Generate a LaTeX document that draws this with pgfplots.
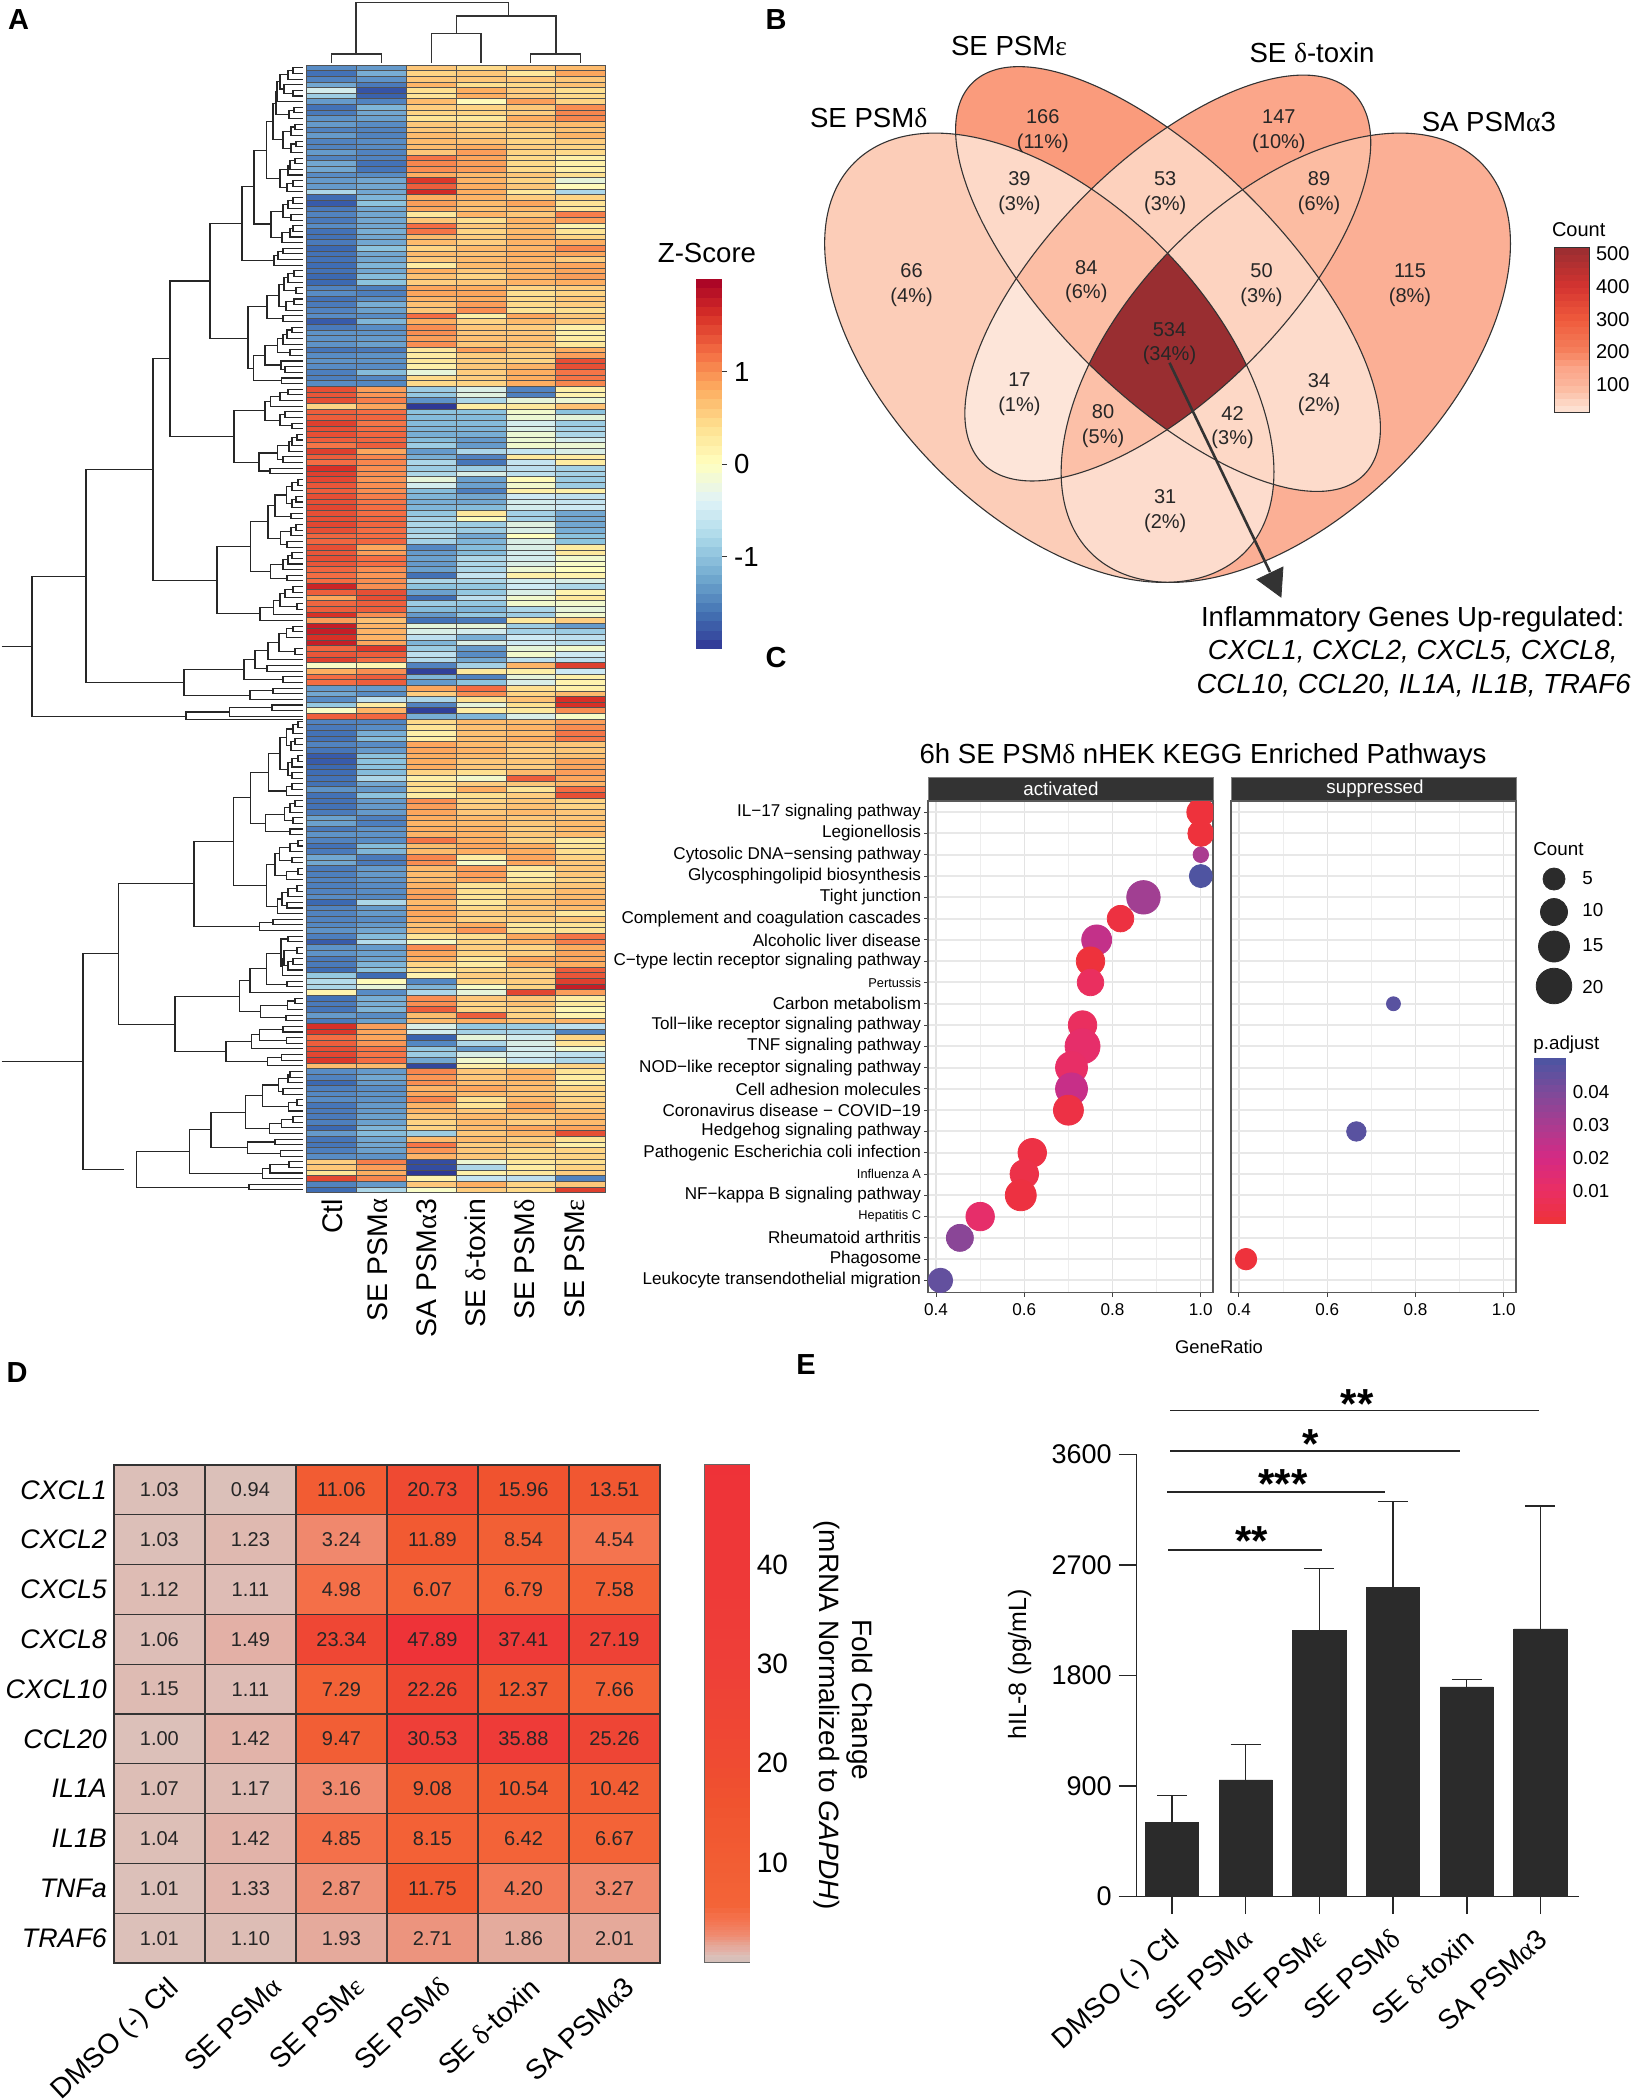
\documentclass[border=0pt]{standalone}
\usepackage{pgfplots}
\usepackage{pgfplotstable}
\usepackage{fontspec}
\pgfplotsset{compat=1.18}
\setmainfont{Liberation Sans}
\newfontfamily\gk{Liberation Serif}
\newcommand\GD{{\gk δ}}
\newcommand\GE{{\gk ε}}
\newcommand\GA{{\gk α}}
\newcommand\fs[1]{\fontsize{#1}{#1}\selectfont}
\pgfplotsset{
 box/.style n args={4}{scale only axis, anchor=north west, at={(#1*0.5pt,-#2*0.5pt)}, width=#3*0.5pt, height=#4*0.5pt},
 /pgf/number format/assume math mode=true,
 unbounded coords=jump,
 colormap={zs}{rgb255=(49,54,149) rgb255=(69,117,180) rgb255=(116,173,209) rgb255=(171,217,233) rgb255=(224,243,248) rgb255=(255,255,191) rgb255=(254,224,144) rgb255=(253,174,97) rgb255=(244,109,67) rgb255=(215,48,39) rgb255=(165,0,38)},
 colormap={zc}{rgb255=(45,50,145) rgb255=(60,105,178) rgb255=(88,140,197) rgb255=(140,195,222) rgb255=(205,233,243) rgb255=(255,255,191) rgb255=(254,224,144) rgb255=(253,174,97) rgb255=(244,109,67) rgb255=(215,48,39) rgb255=(165,0,38)},
 colormap={cnt}{rgb255(17cm)=(253,229,217) rgb255(50cm)=(253,211,192) rgb255(84cm)=(252,190,165) rgb255(115cm)=(251,175,149) rgb255(147cm)=(251,166,138) rgb255(166cm)=(250,155,124) rgb255(200cm)=(245,129,93) rgb255(300cm)=(239,90,60) rgb255(400cm)=(212,51,48) rgb255(518cm)=(153,46,49)},
 colormap={pad}{rgb255=(238,50,56) rgb255=(234,47,99) rgb255=(212,42,132) rgb255=(170,60,144) rgb255=(125,74,154) rgb255=(74,85,162)},
 colormap={fold}{rgb255(0cm)=(205,190,186) rgb255(1cm)=(220,192,185) rgb255(1.5cm)=(227,176,166) rgb255(2cm)=(229,169,154) rgb255(3cm)=(239,140,114) rgb255(4.5cm)=(244,116,80) rgb255(6cm)=(243,100,56) rgb255(11cm)=(242,92,51) rgb255(16cm)=(240,83,47) rgb255(20cm)=(239,75,50) rgb255(30cm)=(238,63,56) rgb255(50cm)=(238,50,56)},
 hcell/.style={scatter,only marks,mark=cellA,mark options={line width=.38pt},scatter src=explicit,scatter/use mapped color={draw=black!68,fill=mapped color}},
}
\pgfdeclareplotmark{cellA}{\pgfpathrectangle{\pgfpoint{-12.46pt}{-1.41pt}}{\pgfpoint{24.92pt}{2.82pt}}\pgfusepathqfillstroke}
\pgfdeclareplotmark{cbA}{\pgfpathrectangle{\pgfpoint{-6.5pt}{-2.4pt}}{\pgfpoint{13pt}{4.8pt}}\pgfusepathqfill}
\pgfdeclareplotmark{cbB}{\pgfpathrectangle{\pgfpoint{-8.5pt}{-1.75pt}}{\pgfpoint{17pt}{3.5pt}}\pgfusepathqfill}
\pgfdeclareplotmark{cbC}{\pgfpathrectangle{\pgfpoint{-8.05pt}{-1.75pt}}{\pgfpoint{16.1pt}{3.5pt}}\pgfusepathqfill}
\pgfdeclareplotmark{cbD}{\pgfpathrectangle{\pgfpoint{-11.3pt}{-2.6pt}}{\pgfpoint{22.6pt}{5.2pt}}\pgfusepathqfill}
\pgfplotstableread{
a b c d e f
-1.2 -1.1 .6 .45 .65 .7
-1.5 -.95 .5 .6 .3 .85
-1.3 -1.15 .6 .6 .6 .6
-1.0 -1.4 .75 .4 .45 .65
-.35 -1.75 .4 .8 .55 .4
-.7 -1.65 .35 .8 .55 .45
-1.1 -1.3 .7 .05 .9 .5
-1.5 -.9 .55 .5 .6 1.0
-1.4 -1.0 .5 .5 .55 1.05
-1.15 -1.05 .35 .3 .8 1.05
-1.1 -1.2 .6 .55 .65 .7
-1.3 -1.3 .6 .5 .55 .65
-1.1 -1.3 .7 .6 .5 .75
-1.3 -1.2 .7 .65 .5 .55
-1.3 -1.2 .7 .8 .55 .5
-1.1 -1.3 .6 .9 .5 .45
-1.3 -1.3 1.15 .85 .45 .2
-1.0 -1.5 1.05 .9 .45 .2
-1.0 -1.45 1.0 .9 .45 .2
-1.2 -1.2 .8 .7 .6 .4
-1.1 -1.0 1.55 .75 .5 -.2
-1.1 -1.0 1.3 .8 .6 .05
-.6 -1.0 1.65 .8 .3 -.6
-1.55 -.9 .8 .75 .55 .5
-1.7 -.8 .9 .7 .85 .35
-1.4 -1.0 .85 .65 .7 .3
-1.3 -1.0 .3 .75 .6 1.1
-1.4 -1.0 .6 .4 .75 .9
-1.2 -1.0 1.2 .6 .7 .15
-1.5 -.95 1.15 .5 .7 .35
-1.5 -1.0 .7 .55 .75 .5
-1.4 -1.0 .7 .55 .75 .8
-1.6 -.8 .5 .7 .75 1.05
-1.5 -1.0 .7 .65 .8 .85
-1.5 -1.0 .6 .7 .75 .55
-1.55 -.9 .25 .7 .75 .85
-1.5 -1.0 .8 .6 .75 .85
-1.6 -.85 .65 .5 .75 .9
-1.6 -.8 .55 .6 .75 .8
-1.3 -1.35 .85 .8 .5 .55
-1.2 -1.35 .85 .85 .4 .5
-1.5 -1.2 .75 .8 .45 .6
-1.4 -.95 .65 .9 .45 .55
-1.3 -1.05 .6 1.0 .35 .4
-1.2 -1.2 1.2 .2 .85 .6
-1.7 -.9 .8 .5 .7 .6
-1.4 -1.2 1.0 .6 .55 .2
-1.15 -1.15 1.0 .6 .6 .2
-1.15 -1.1 .9 .65 .65 .25
-1.15 -1.05 1.0 .6 .65 .3
-1.45 -1.4 .3 .9 .6 .8
-1.2 -1.15 .25 .55 .55 .9
-1.15 -1.15 .3 .55 .5 1.4
-1.2 -1.2 .2 .6 .75 1.4
-1.35 -.85 -.2 .55 .8 1.15
-1.35 -1.25 .45 .55 .8 1.15
-1.2 -1.25 .45 .5 .8 1.05
1.4 .9 -.7 -.3 -1.3 .2
1.35 .95 -.75 -.25 -1.35 .15
1.4 1.1 -1.15 -.6 -.2 -.15
.5 .85 -1.95 .25 .3 .65
1.3 1.2 -.8 -.8 -.1 -.8
1.3 1.25 -.85 -.85 -.15 -.2
1.5 1.15 -.85 -.85 -.35 -.7
1.4 1.2 -.9 -.9 -.3 -.65
1.4 1.25 -.95 -.95 -.15 -.6
1.3 1.25 -.85 -1.1 -.15 -.35
1.15 1.3 -.7 -1.1 -.1 -.15
1.5 .85 -1.1 -.6 -.45 -.3
1.3 1.05 -.95 -1.3 .3 .25
1.2 1.05 -.6 -1.45 -.45 .25
1.6 1.0 -.7 -.7 -.5 -.65
1.5 1.0 -.6 -.3 -.5 -.65
1.45 .95 -.2 -1.05 .05 -.7
1.35 1.0 -.35 -1.05 -.1 -.7
1.3 1.0 -.85 -1.35 .2 .2
1.4 1.1 -.9 -1.0 -.4 -.5
1.4 1.15 -.95 -1.0 -.35 -.45
1.45 1.2 -.9 -.85 -.35 -.4
1.4 1.2 -.75 .3 -.65 -1.0
1.4 1.25 -.65 .05 -.65 -1.0
1.45 1.25 -.6 -.7 -.25 -1.0
1.4 1.2 -.65 -.7 -.3 -.95
1.25 1.2 -.55 -1.0 .0 -.8
1.25 1.25 -.65 -.9 -.3 -.8
1.4 .85 -1.25 -.85 -.3 .25
1.35 .9 -1.1 -.85 -.35 .3
1.4 1.2 -1.05 -.6 -.35 -.1
1.35 1.2 -1.1 -.6 -.3 -.05
1.25 1.0 -1.05 -.6 -.15 0
1.2 .95 -1.5 -.45 .2 .15
1.2 1.0 -.6 -.6 -.35 -.3
1.7 1.0 -.8 -.75 -.4 -.6
1.3 1.4 -1.05 -.75 -.3 .15
.85 1.4 -1.55 -.5 -.1 .3
1.25 1.3 -.7 -.75 -.1 -.1
1.3 1.3 -.85 -.9 -.6 -.2
1.6 1.0 -1.1 -.75 -.7 -.1
.9 .65 -1.5 -1.4 .3 .55
1.75 .75 -.2 -.2 -.7 -1.1
1.75 .75 -.3 -.35 -.65 -.7
1.6 .75 -.5 -.95 -.4 -.5
1.75 .85 -.9 -.3 -.4 -.55
1.25 1.55 -.7 -1.1 -.2 -.1
1.35 1.3 -.5 -1.2 -.1 -.4
1.5 1.2 -.55 -1.0 -.5 -.5
-.05 .1 -1.3 -.65 .75 1.5
.8 1.0 -1.9 .3 .2 -.4
1.2 1.3 -.9 -1.3 -.2 .2
1.2 1.3 -1.1 -.8 -.3 .15
-1.1 -1.1 .85 1.2 .4 .2
-1.0 -1.2 .55 1.0 .5 .7
-1.2 -.5 -.6 .4 .65 1.6
-.75 .25 -1.3 -.2 .4 1.6
-.05 .75 -1.9 .25 .3 1.0
1.3 1.25 -.95 -.9 -.3 -.05
-1.3 -1.3 .45 .7 .7 .9
-1.4 -1.2 .35 .65 .75 1.0
-1.5 -.95 .2 .65 .7 1.15
-1.5 -.85 .2 .65 .8 1.15
-1.3 -1.2 .85 .7 .6 .6
-1.45 -1.1 .85 .75 .55 .6
-1.7 -.8 .8 .7 .55 .65
-1.7 -.8 .8 .6 .6 .85
-1.6 -.8 .8 .6 .55 .85
-1.55 -.85 .5 .4 .7 .9
-1.5 -.6 .2 -.1 1.3 .85
-1.5 -1.0 .45 .55 .6 .75
-1.15 -1.1 .4 .8 .35 1.2
-1.5 -.8 .25 .4 .55 1.4
-1.5 -1.1 1.0 .5 .6 .5
-1.5 -1.1 .9 .55 .65 .5
-1.4 -1.1 .85 .6 .7 .6
-1.05 -1.35 .8 .7 .6 .6
-1.05 -1.35 .75 .7 .6 .7
-1.4 -1.15 .8 .75 .55 .7
-1.15 -1.15 .75 .75 .6 .7
-1.3 -1.2 1.15 .8 .5 .25
-1.5 -.85 .7 .85 .8 .35
-1.4 -.9 .7 .8 .8 .4
-1.0 -1.4 1.05 .25 .85 .5
-1.0 -1.4 1.0 -.05 .85 .6
-1.4 -1.1 .7 .9 .3 .6
-1.35 -1.1 .7 .9 .25 .6
-1.3 -1.15 .7 .85 .3 .5
-1.35 -1.2 .75 .35 .5 .6
-1.3 -1.2 .85 .4 .5 .7
-1.2 -1.25 .9 .35 .55 .7
-1.6 -.6 .7 .3 .65 .75
-1.3 -1.1 .8 .45 .6 .7
-1.3 -1.1 .85 .55 .6 .3
-1.3 -1.2 .8 .5 .55 .6
-1.25 -1.1 .65 .8 .3 .35
-1.15 -1.0 .7 .95 .35 .35
-1.35 -.85 .35 .4 .85 1.15
-1.7 -.55 -.05 .5 .75 1.1
-1.15 -1.1 1.0 .55 .5 .8
-1.15 -1.05 .85 .5 .55 .85
-1.4 -1.05 .8 .35 .85 .85
-1.4 -.9 .5 .25 .75 .8
-1.55 -.8 .4 .45 .5 1.3
-.75 -1.55 .15 .55 .55 1.35
-.55 .05 -1.25 .5 .55 1.5
-.6 -.2 -.9 -.05 .5 1.75
.15 -1.2 -.6 -.2 1.45 .9
-1.5 -.95 1.0 .6 .6 .25
-1.4 -.95 1.0 .5 .65 .3
-1.45 -.9 1.3 .5 .5 .1
-1.1 -1.2 .7 1.3 .5 .15
-1.4 -1.05 .7 .8 .65 .75
1.6 .9 -.3 -.75 -.7 -.5
1.55 .85 -.35 -.65 -.6 -1.3
1.2 .85 -1.65 -.2 -.35 .5
1.3 .95 -1.25 -.6 -.3 .35
1.4 1.15 -.75 -1.1 -.35 -.1
1.45 1.15 -.7 -.3 -.35 -.5
1.55 1.2 -1.0 -.1 -.45 -.6
.7 .7 -1.85 .2 .25 .5
-1.2 -1.1 1.05 .6 .75 .35
-1.3 -1.0 .95 .6 .75 .25
-1.6 -1.1 1.0 .7 .7 .25
-1.35 -1.2 .75 .85 .7 .5
-1.25 -1.15 .85 .7 .65 .45
-1.2 -1.15 1.05 .4 .7 .5
-1.45 -1.1 .75 .35 .85 .55
-1.4 -1.1 .75 .6 .8 .65
-1.4 -1.05 .6 .7 .6 .75
-1.35 -1.05 .5 .7 .55 .7
-1.6 -.9 .5 .7 .85 .85
-1.1 -.85 -.7 .6 .75 1.4
-1.45 -1.0 .7 .7 .55 .35
-1.45 -1.0 1.15 .55 .6 .2
-1.35 -1.05 .95 .6 .45 .5
-1.2 -1.15 .75 .6 .45 .5
.55 1.1 -1.8 -.15 .3 .4
.6 .9 -1.8 -.6 .25 .5
.35 .8 -1.95 .2 .3 .55
1.45 1.05 .15 -.45 -.5 -1.3
-1.3 -1.1 .6 .8 .5 .6
-1.55 -.6 -.05 .55 .45 1.5
}\zdata
\def\JP{(nan,nan)}
\def\DL#1#2#3{(302.7,#2)(#1,#2)(#1,#3)(302.7,#3)\JP}
\def\DN#1#2#3#4#5{(#3,#2)(#1,#2)(#1,#4)(#5,#4)\JP}
\edef\rowdenA{
\DL{293}{0}{1}\DN{288}{0.5}{293}{2}{302.7}\DL{293}{4}{5}\DN{284}{3}{302.7}{4.5}{293}\DN{280}{1.25}{288}{3.75}{284}\DN{277}{2.5}{280}{6}{302.7}
\DL{294}{7}{8}\DN{289}{7.5}{294}{9}{302.7}\DN{276}{4.25}{277}{8.25}{289}\DL{295}{10}{11}\DN{291}{10.5}{295}{12}{302.7}\DL{296}{13}{14}\DN{291}{13.5}{296}{15}{302.7}
\DN{283}{11.25}{291}{14.25}{291}\DN{273}{6.25}{276}{12.75}{283}\DL{295}{16}{17}\DN{290}{16.5}{295}{18}{302.7}\DN{288}{17.25}{290}{19}{302.7}\DL{293}{20}{21}\DN{287}{20.5}{293}{22}{302.7}\DN{280}{18.1}{288}{21.25}{287}
\DN{266.5}{9.5}{273}{19.7}{280}\DL{293}{23}{24}\DN{288}{23.5}{293}{25}{302.7}\DL{291}{26}{27}\DN{283}{24.25}{288}{26.5}{291}\DL{293}{28}{29}\DN{290}{28.5}{293}{30}{302.7}\DN{282}{29.25}{290}{31}{302.7}
\DN{271}{25.4}{283}{30.1}{282}\DN{254}{14.6}{266.5}{27.7}{271}\DL{283}{32}{33}\DN{278}{32.5}{283}{34}{302.7}\DN{274}{33.25}{278}{35}{302.7}\DN{242}{21.1}{254}{34.1}{274}
\DL{294}{36}{37}\DN{288}{36.5}{294}{38}{302.7}\DL{296}{39}{40}\DN{284}{37.25}{288}{39.5}{296}\DL{294}{41}{42}\DN{286}{41.5}{294}{43}{302.7}\DN{279}{38.4}{284}{42.25}{286}\DL{283}{44}{45}\DN{267}{40.3}{279}{44.5}{283}
\DL{292}{46}{47}\DN{287}{46.5}{292}{48}{302.7}\DN{283}{47.25}{287}{49}{302.7}\DL{290}{50}{51}\DN{277.7}{48}{283}{50.5}{290}\DL{285}{53}{54}\DN{281}{52}{302.7}{53.5}{285}\DN{265}{49.3}{277.7}{52.7}{281}\DL{281.7}{55}{56}
\DN{253.3}{51}{265}{55.5}{281.7}\DN{248}{42.4}{267}{53.3}{253.3}\DN{210}{27.6}{242}{48}{248}
\DL{288}{57}{58}\DN{280}{57.5}{288}{59}{302.7}\DN{270.7}{58.25}{280}{60}{302.7}\DL{285}{61}{62}\DL{292}{63}{64}\DN{280}{61.5}{285}{63.5}{292}\DN{265}{59.1}{270.7}{62.5}{280}
\DL{297}{65}{66}\DN{292}{65.5}{297}{67}{302.7}\DN{289}{66.25}{292}{68}{302.7}\DL{283}{69}{70}\DN{277.7}{67}{289}{69.5}{283}\DL{270}{71}{72}\DN{259}{68.3}{277.7}{71.5}{270}\DN{234}{60.8}{265}{70}{259}\DN{170}{37.8}{210}{65.4}{234}
}
\edef\rowdenB{
\DL{298}{73}{74}\DN{292}{73.5}{298}{75}{302.7}\DL{296}{76}{77}\DN{292}{76.5}{296}{78}{302.7}\DN{286.7}{74.25}{292}{77.25}{292}\DL{291}{79}{80}\DN{275}{75.75}{286.7}{79.5}{291}\DL{296}{81}{82}\DN{291}{81.5}{296}{83}{302.7}\DL{287}{84}{85}\DN{280.7}{82.25}{291}{84.5}{287}\DN{268}{77.6}{275}{83.4}{280.7}
\DL{292}{86}{87}\DN{288}{86.5}{292}{88}{302.7}\DN{283}{87.25}{288}{89}{302.7}\DL{287}{90}{91}\DN{270.7}{88.1}{283}{90.5}{287}\DN{250.7}{80.5}{268}{89.3}{270.7}
\DL{293}{92}{93}\DN{285}{92.5}{293}{94}{302.7}\DL{297}{95}{96}\DN{280}{93.25}{285}{95.5}{297}\DN{273.3}{94.4}{280}{97}{302.7}\DN{260}{95.7}{273.3}{98}{302.7}\DN{217}{84.9}{250.7}{96.8}{260}\DN{153}{51.6}{170}{90.9}{217}
\DL{293}{99}{100}\DN{286.7}{99.5}{293}{101}{302.7}\DL{295}{103}{104}\DN{279}{100.25}{286.7}{103.5}{295}\DN{268}{101.9}{279}{105}{302.7}\DL{267}{106}{107}\DN{255}{103.4}{268}{106.5}{267}\DL{283}{108}{109}\DN{244}{105}{255}{108.5}{283}
\DL{273}{110}{111}\DN{250}{110.5}{273}{112}{302.7}\DN{184}{106.75}{244}{111.25}{250}\DN{86}{71.3}{153}{109}{184}
\DL{272}{113}{114}\DN{229.6}{113.5}{272}{115}{302.7}\DN{186}{114.25}{229.6}{115.6}{302.7}\DN{32}{90.2}{86}{115}{186}(1.5,102.7)(32,102.7)\JP
}
\edef\rowdenC{
\DL{298}{116}{117}\DN{293}{116.5}{298}{118}{302.7}\DL{295}{119}{120}\DN{291}{119.5}{295}{121}{302.7}\DN{286.7}{117.25}{293}{120.25}{291}\DL{298}{122}{123}\DN{292}{122.5}{298}{124}{302.7}\DL{292}{125}{126}\DN{288}{123.25}{292}{125.5}{292}\DN{280}{118.75}{286.7}{124.4}{288}
\DL{292}{127}{128}\DN{286.7}{127.5}{292}{129}{302.7}\DN{268.3}{121.6}{280}{128.25}{286.7}\DL{295}{130}{131}\DN{290}{130.5}{295}{132}{302.7}\DL{293}{133}{134}\DN{284.3}{131.25}{290}{133.5}{293}\DL{290}{135}{136}\DN{265.7}{132.4}{284.3}{135.5}{290}\DN{250.7}{124.9}{268.3}{133.95}{265.7}
\DL{298}{137}{138}\DN{290}{137.5}{298}{139}{302.7}\DL{292}{140}{141}\DN{279.3}{138.25}{290}{140.5}{292}\DL{298}{142}{143}\DN{286.7}{142.5}{298}{144}{302.7}\DN{275}{139.4}{279.3}{143.25}{286.7}
\DL{297}{145}{146}\DN{288}{145.5}{297}{147}{302.7}\DL{287}{148}{149}\DN{282}{146.25}{288}{148.5}{287}\DN{277.3}{147.4}{282}{150}{302.7}\DN{266.7}{141.3}{275}{148.7}{277.3}\DN{233.3}{129.4}{250.7}{145}{266.7}
\DL{273}{151}{152}\DN{259.3}{151.5}{273}{153}{302.7}\DN{194}{137.2}{233.3}{152.25}{259.3}
\DL{288}{154}{155}\DL{297}{156}{157}\DL{293}{158}{159}\DN{288}{158.5}{293}{160}{302.7}\DN{284}{156.5}{297}{159.25}{288}\DN{282.5}{157.9}{284}{161}{302.7}\DN{281}{154.5}{288}{159.45}{282.5}\DL{287}{162}{163}\DN{266.7}{157}{281}{162.5}{287}\DN{250}{159.75}{266.7}{164}{302.7}
\DL{295}{165}{166}\DN{287.3}{165.5}{295}{167}{302.7}\DL{286}{168}{169}\DN{260.7}{166.25}{287.3}{168.5}{286}\DN{239.3}{161.9}{250}{167.4}{260.7}
\DL{283}{170}{171}\DL{286.7}{172}{173}\DN{259.3}{170.5}{283}{172.5}{286.7}\DN{251.7}{171.5}{259.3}{174}{302.7}\DL{281.7}{175}{176}\DN{267.7}{175.5}{281.7}{177}{302.7}\DN{226}{172.75}{251.7}{176.25}{267.7}\DN{175}{164.65}{239.3}{174.5}{226}\DN{118.4}{144.7}{194}{169.6}{175}
}
\edef\rowdenD{
\DL{290}{178}{179}\DN{288}{178.5}{290}{180}{302.7}\DL{283}{181}{182}\DN{278.3}{179.25}{288}{181.5}{283}\DL{297}{183}{184}\DN{288.3}{183.5}{297}{185}{302.7}\DN{262.3}{180.4}{278.3}{184.25}{288.3}
\DL{293}{186}{187}\DN{281.7}{186.5}{293}{188}{302.7}\DN{269.3}{187.25}{281.7}{189}{302.7}\DN{245.7}{182.3}{262.3}{188.1}{269.3}\DL{275}{190}{191}\DL{280.7}{192}{193}\DN{247.3}{190.5}{275}{192.5}{280.7}\DN{211}{185.2}{245.7}{191.5}{247.3}
\DL{289}{194}{195}\DN{270}{194.5}{289}{196}{302.7}\DN{262.3}{195.25}{270}{197}{302.7}\DN{189.8}{188.35}{211}{196.1}{262.3}\DL{249}{198}{199}\DN{136.7}{192.2}{189.8}{198.5}{249}\DN{83}{157.15}{118.4}{195.4}{124}(1.5,176.3)(83,176.3)\JP
}
\newcommand\EA{(axis cs:1049.3,357.7) ellipse [x radius=137.9pt,y radius=78.8pt,rotate=-45]}
\newcommand\ED{(axis cs:1285.8,357.7) ellipse [x radius=137.9pt,y radius=78.8pt,rotate=45]}
\newcommand\EB{(axis cs:1168,279) ellipse [x radius=138.5pt,y radius=58pt,rotate=-45]}
\newcommand\EC{(axis cs:1167.8,278) ellipse [x radius=131pt,y radius=58.5pt,rotate=45]}
\newcommand\RII[3]{\begin{scope}\clip #1;\fill[#3] #2;\end{scope}}
\newcommand\RIII[4]{\begin{scope}\clip #1;\clip #2;\fill[#4] #3;\end{scope}}
\newcommand\RIV[5]{\begin{scope}\clip #1;\clip #2;\clip #3;\fill[#5] #4;\end{scope}}
\newcommand\vn[3]{\node[align=center,font=\fontsize{10}{12.4}\selectfont,text=black!85] at (axis cs:#1,#2+1.5) {#3};}
\definecolor{inkc}{HTML}{2B2B2B}
\definecolor{vline}{HTML}{333333}
\definecolor{v017}{RGB}{253,229,217}
\definecolor{v031}{RGB}{253,220,205}
\definecolor{v034}{RGB}{253,219,203}
\definecolor{v039}{RGB}{253,217,200}
\definecolor{v042}{RGB}{253,216,198}
\definecolor{v050}{RGB}{253,211,192}
\definecolor{v053}{RGB}{253,209,189}
\definecolor{v066}{RGB}{252,205,184}
\definecolor{v080}{RGB}{252,192,168}
\definecolor{v084}{RGB}{252,190,165}
\definecolor{v089}{RGB}{252,188,162}
\definecolor{v115}{RGB}{251,175,149}
\definecolor{v147}{RGB}{251,166,138}
\definecolor{v166}{RGB}{250,155,124}
\definecolor{v534}{RGB}{153,46,49}
\begin{document}
\begin{tikzpicture}
\useasboundingbox (0,0) rectangle (816.5pt,-1050pt);
% ---------- canvas in reference pixels
\begin{axis}[box={0}{0}{1633}{2100},xmin=0,xmax=1633,ymin=0,ymax=2100,y dir=reverse,hide axis,clip=false]
% column dendrogram
\addplot[black!80,line width=.55pt] coordinates {(331.5,62.5)(331.5,54)(381.3,54)(381.3,62.5)(nan,nan) (356,54)(356,2.2)(508.7,2.2)(508.7,16)(nan,nan) (431.2,62.5)(431.2,33.5)(481,33.5)(481,62.5)(nan,nan) (456.6,33.5)(456.6,16)(556,16)(556,54)(nan,nan) (530.9,62.5)(530.9,54)(580.7,54)(580.7,62.5)};
% panel letters
\node[font=\bfseries\fs{14.5}] at (axis cs:18.5,19) {A};
\node[font=\bfseries\fs{14.5}] at (axis cs:776,19) {B};
\node[font=\bfseries\fs{14.5}] at (axis cs:776,657) {C};
\node[font=\bfseries\fs{14.5}] at (axis cs:17,1372) {D};
\node[font=\bfseries\fs{14.5}] at (axis cs:806,1364) {E};
% A labels
\node[rotate=90,anchor=east,font=\fs{14.2}] at (axis cs:332,1192) {Ctl};
\node[rotate=90,anchor=east,font=\fs{14.2}] at (axis cs:378,1192) {SE PSM\GA};
\node[rotate=90,anchor=east,font=\fs{14.2}] at (axis cs:427,1192) {SA PSM\GA3};
\node[rotate=90,anchor=east,font=\fs{14.2}] at (axis cs:475,1192) {SE \GD-toxin};
\node[rotate=90,anchor=east,font=\fs{14.2}] at (axis cs:525,1192) {SE PSM\GD};
\node[rotate=90,anchor=east,font=\fs{14.2}] at (axis cs:575,1192) {SE PSM\GE};
\node[font=\fs{13.8}] at (axis cs:707,253) {Z-Score};
% Venn
\fill[v066] \EA;
\fill[v115] \ED;
\fill[v166] \EB;
\fill[v147] \EC;
\RII{\EA}{\EB}{v039}
\RII{\EB}{\EC}{v053}
\RII{\EC}{\ED}{v089}
\RII{\EA}{\EC}{v017}
\RII{\EB}{\ED}{v034}
\RII{\EA}{\ED}{v031}
\RIII{\EA}{\EB}{\EC}{v084}
\RIII{\EB}{\EC}{\ED}{v050}
\RIII{\EA}{\EC}{\ED}{v080}
\RIII{\EA}{\EB}{\ED}{v042}
\RIV{\EA}{\EB}{\EC}{\ED}{v534}
\draw[vline,line width=.55pt] \EA; \draw[vline,line width=.55pt] \ED; \draw[vline,line width=.55pt] \EB; \draw[vline,line width=.55pt] \EC;
\vn{1042.8}{129.5}{166\\(11\%)}\vn{1278.9}{129.5}{147\\(10\%)}\vn{1019.4}{191.4}{39\\(3\%)}\vn{1165.2}{191.9}{53\\(3\%)}\vn{1319.1}{191.4}{89\\(6\%)}
\vn{911.6}{283.7}{66\\(4\%)}\vn{1086.3}{280}{84\\(6\%)}\vn{1261.5}{283.7}{50\\(3\%)}\vn{1410}{283.7}{115\\(8\%)}\vn{1169.5}{342}{534\\(34\%)}
\vn{1019.4}{393}{17\\(1\%)}\vn{1319.1}{393}{34\\(2\%)}\vn{1103.1}{424.7}{80\\(5\%)}\vn{1232.6}{426}{42\\(3\%)}\vn{1165.2}{509.6}{31\\(2\%)}
\node[font=\fs{13.8}] at (axis cs:868.7,118) {SE PSM\GD};
\node[font=\fs{13.8}] at (axis cs:1009,46) {SE PSM\GE};
\node[font=\fs{13.8}] at (axis cs:1312,53) {SE \GD-toxin};
\node[font=\fs{13.8}] at (axis cs:1488.8,122) {SA PSM\GA3};
\addplot[vline,line width=1.3pt] coordinates {(1169.5,362.7)(1270,572)};
\addplot[fill=vline,draw=vline] coordinates {(1257,579.4)(1283,567)(1281,597)} --cycle;
\node[font=\fs{13.8}] at (axis cs:1412.7,619.5) {Inflammatory Genes Up-regulated:};
\node[font=\fs{13.8}\itshape] at (axis cs:1412.7,651.5) {CXCL1, CXCL2, CXCL5, CXCL8,};
\node[font=\fs{13.8}\itshape] at (axis cs:1413.6,685.5) {CCL10, CCL20, IL1A, IL1B, TRAF6};
\node[font=\fs{10}] at (axis cs:1578.7,229.6) {Count};
% C decoration
\node[font=\fs{13.8}] at (axis cs:1203,756) {6h SE PSM\GD\ nHEK KEGG Enriched Pathways};
\addplot[fill=vline,draw=gray] coordinates {(928.1,777)(1213,777)(1213,801)(928.1,801)} --cycle;
\addplot[fill=vline,draw=gray] coordinates {(1231,777)(1516,777)(1516,801)(1231,801)} --cycle;
\node[font=\fs{9.4},text=white] at (axis cs:1061,788.6) {activated};
\node[font=\fs{9.4},text=white] at (axis cs:1375,788.6) {suppressed};
\node[font=\fs{9.2}] at (axis cs:1219,1346.5) {GeneRatio};
\node[font=\fs{9.4},anchor=west,inner xsep=0pt] at (axis cs:1533,848.6) {Count};
\node[font=\fs{9.4},anchor=west,inner xsep=0pt] at (axis cs:1533,1044.5) {p.adjust};
\addplot[only marks,mark=*,mark size=5.5pt,inkc] coordinates {(1554,879)};
\addplot[only marks,mark=*,mark size=6.75pt,inkc] coordinates {(1554,912)};
\addplot[only marks,mark=*,mark size=7.75pt,inkc] coordinates {(1554,946.5)};
\addplot[only marks,mark=*,mark size=8.9pt,inkc] coordinates {(1554,986)};
\node[font=\fs{9.4},anchor=west,inner xsep=0pt] at (axis cs:1582,878) {5};
\node[font=\fs{9.4},anchor=west,inner xsep=0pt] at (axis cs:1582,910) {10};
\node[font=\fs{9.4},anchor=west,inner xsep=0pt] at (axis cs:1582,945) {15};
\node[font=\fs{9.4},anchor=west,inner xsep=0pt] at (axis cs:1582,987) {20};
% D labels
\node[rotate=43,anchor=north east,font=\fs{14},inner sep=0pt] at (axis cs:166,1975) {DMSO (-) Ctl};
\node[rotate=43,anchor=north east,font=\fs{14},inner sep=0pt] at (axis cs:270,1975) {SE PSM\GA};
\node[rotate=43,anchor=north east,font=\fs{14},inner sep=0pt] at (axis cs:353,1975) {SE PSM\GE};
\node[rotate=43,anchor=north east,font=\fs{14},inner sep=0pt] at (axis cs:439,1975) {SE PSM\GD};
\node[rotate=43,anchor=north east,font=\fs{14},inner sep=0pt] at (axis cs:528,1975) {SE \GD-toxin};
\node[rotate=43,anchor=north east,font=\fs{14},inner sep=0pt] at (axis cs:623,1975) {SA PSM\GA3};
\node[rotate=-90,font=\fs{14}] at (axis cs:860,1700) {Fold Change};
\node[rotate=-90,font=\fs{14}] at (axis cs:827,1715) {(mRNA Normalized to {\itshape GAPDH})};
% E labels and significance
\node[rotate=42,anchor=north east,font=\fs{13.9},inner sep=0pt] at (axis cs:1168,1927) {DMSO (-) Ctl};
\node[rotate=42,anchor=north east,font=\fs{13.9},inner sep=0pt] at (axis cs:1241,1927) {SE PSM\GA};
\node[rotate=42,anchor=north east,font=\fs{13.9},inner sep=0pt] at (axis cs:1315,1927) {SE PSM\GE};
\node[rotate=42,anchor=north east,font=\fs{13.9},inner sep=0pt] at (axis cs:1389,1927) {SE PSM\GD};
\node[rotate=42,anchor=north east,font=\fs{13.9},inner sep=0pt] at (axis cs:1463,1927) {SE \GD-toxin};
\node[rotate=42,anchor=north east,font=\fs{13.9},inner sep=0pt] at (axis cs:1536,1927) {SA PSM\GA3};
\node[rotate=90,font=\fs{12.5}] at (axis cs:1019.6,1664) {hIL-8 (pg/mL)};
\addplot[black!85,line width=.65pt] coordinates {(1170,1410.5)(1539,1410.5)(nan,nan) (1170,1451)(1460,1451)(nan,nan) (1167.4,1492)(1385,1492)(nan,nan) (1168,1550)(1322,1550)};
\node[font=\bfseries\fs{21}] at (axis cs:1357,1404) {**};
\node[font=\bfseries\fs{21}] at (axis cs:1311,1444) {*};
\node[font=\bfseries\fs{21}] at (axis cs:1283,1484) {***};
\node[font=\bfseries\fs{21}] at (axis cs:1251.5,1541) {**};
\end{axis}
% ---------- A row dendrogram
\begin{axis}[box={0}{65}{302.7}{1127.7},xmin=0,xmax=302.7,ymin=-.5,ymax=199.5,y dir=reverse,hide axis,clip=false]
\edef\cmd{\noexpand\addplot[black!85,line width=.55pt] coordinates {\rowdenA};}\cmd
\edef\cmd{\noexpand\addplot[black!85,line width=.55pt] coordinates {\rowdenB};}\cmd
\edef\cmd{\noexpand\addplot[black!85,line width=.55pt] coordinates {\rowdenC};}\cmd
\edef\cmd{\noexpand\addplot[black!85,line width=.55pt] coordinates {\rowdenD};}\cmd
\end{axis}
% ---------- A heat map
\begin{axis}[box={306.6}{65}{299}{1127.7},xmin=-.5,xmax=5.5,ymin=-.5,ymax=199.5,y dir=reverse,hide axis,clip=false,colormap name=zc,point meta min=-2,point meta max=2]
\addplot[hcell] table[x expr=0,y expr=\coordindex,meta=a]{\zdata};
\addplot[hcell] table[x expr=1,y expr=\coordindex,meta=b]{\zdata};
\addplot[hcell] table[x expr=2,y expr=\coordindex,meta=c]{\zdata};
\addplot[hcell] table[x expr=3,y expr=\coordindex,meta=d]{\zdata};
\addplot[hcell] table[x expr=4,y expr=\coordindex,meta=e]{\zdata};
\addplot[hcell] table[x expr=5,y expr=\coordindex,meta=f]{\zdata};
\end{axis}
% ---------- A colour bar
\begin{axis}[box={696}{279}{26}{370},xmin=-.5,xmax=.5,ymin=-2,ymax=2,xtick=\empty,ytick={-1,0,1},yticklabels={-1,0,1},ytick pos=right,tick align=outside,major tick length=2.5pt,
 axis line style={draw=none},tick style={black!80},tick label style={font=\fs{13.8}},colormap name=zs,point meta min=-2,point meta max=2,axis on top]
\addplot[scatter,only marks,mark=cbA,scatter src=y] coordinates {(0,-1.95)(0,-1.85)(0,-1.75)(0,-1.65)(0,-1.55)(0,-1.45)(0,-1.35)(0,-1.25)(0,-1.15)(0,-1.05)(0,-.95)(0,-.85)(0,-.75)(0,-.65)(0,-.55)(0,-.45)(0,-.35)(0,-.25)(0,-.15)(0,-.05)(0,.05)(0,.15)(0,.25)(0,.35)(0,.45)(0,.55)(0,.65)(0,.75)(0,.85)(0,.95)(0,1.05)(0,1.15)(0,1.25)(0,1.35)(0,1.45)(0,1.55)(0,1.65)(0,1.75)(0,1.85)(0,1.95)};
\end{axis}
% ---------- B colour bar
\begin{axis}[box={1555}{248}{34}{164},xmin=-.5,xmax=.5,ymin=17,ymax=518,xtick=\empty,ytick={100,200,300,400,500},ytick pos=both,yticklabel pos=right,tick align=inside,major tick length=2.5pt,
 axis line style={vline,line width=.6pt},tick style={vline},tick label style={font=\fs{10}},colormap name=cnt,point meta min=17,point meta max=518,axis on top]
\addplot[scatter,only marks,mark=cbB,scatter src=y] coordinates {(0,27)(0,47)(0,67)(0,87)(0,107)(0,127)(0,147)(0,167)(0,187)(0,207)(0,227)(0,247)(0,267)(0,287)(0,307)(0,327)(0,347)(0,367)(0,387)(0,407)(0,427)(0,447)(0,467)(0,487)(0,507)};
\end{axis}
% ---------- C facets
\pgfplotsset{facet/.style={xmin=.382,xmax=1.0276,ymin=-.526,ymax=22.573,y dir=reverse,xtick={.4,.6,.8,1},xticklabels={0.4,0.6,0.8,1.0},minor xtick={.5,.7,.9},ytick={0,...,22},
 xmajorgrids,ymajorgrids,xminorgrids,x grid style={gray!22,line width=.6pt},minor x grid style={gray!14,line width=.35pt},y grid style={gray!18,line width=1pt},
 axis line style={black!65,line width=.7pt},tick style={black!75,line width=.5pt},major tick length=2pt,minor tick length=0pt,tick align=outside,xtick pos=bottom,ytick pos=left,
 tick label style={font=\fs{8.55}},y tick label style={xshift=2pt},clip marker paths=true,colormap name=pad,point meta min=0,point meta max=.05},
 dots/.style={scatter,only marks,mark=*,scatter src=explicit,scatter/use mapped color={draw=mapped color,fill=mapped color},visualization depends on={\thisrow{d}/4\as\msize},scatter/@pre marker code/.append style={/tikz/mark size=\msize pt}}}
\begin{axis}[box={928.1}{801}{284.9}{491.6},facet,
 yticklabels={IL−17 signaling pathway,Legionellosis,Cytosolic DNA−sensing pathway,Glycosphingolipid biosynthesis,Tight junction,Complement and coagulation cascades,Alcoholic liver disease,C−type lectin receptor signaling pathway,{\fs{6.4}Pertussis},Carbon metabolism,Toll−like receptor signaling pathway,TNF signaling pathway,NOD−like receptor signaling pathway,Cell adhesion molecules,Coronavirus disease − COVID−19,Hedgehog signaling pathway,Pathogenic Escherichia coli infection,{\fs{6.4}Influenza A},NF−kappa B signaling pathway,{\fs{6.4}Hepatitis C},Rheumatoid arthritis,Phagosome,Leukocyte transendothelial migration}]
\addplot[dots] table[x=x,y=y,meta=p]{
x y p d
1.0 0 .001 28
1.0 1 .001 26
1.0 2 .03 15.5
1.0 3 .049 23
.87 4 .032 33.5
.818 5 .002 26.5
.764 6 .024 30
.75 7 .001 28.5
.75 8 .009 26.5
.732 10 .009 28.5
.732 11 .012 35
.707 12 .011 32
.707 13 .023 32
.70 14 .003 30
.618 16 .003 28.5
.60 17 .004 28.5
.592 18 .002 31
.50 19 .012 28.5
.454 20 .037 27
.41 22 .045 24.5
};
\end{axis}
\begin{axis}[box={1231}{801}{285}{491.6},facet,yticklabels={},ytick style={draw=none}]
\addplot[dots] table[x=x,y=y,meta=p]{
x y p d
.75 9 .047 14
.666 15 .047 19.5
.416 21 .001 21.5
};
\end{axis}
% ---------- C colour bar
\begin{axis}[box={1533.5}{1059.6}{32.2}{163.3},xmin=-.5,xmax=.5,ymin=.0003,ymax=.0497,xtick=\empty,ytick={.01,.02,.03,.04},yticklabels={0.01,0.02,0.03,0.04},scaled y ticks=false,ytick pos=right,tick align=inside,major tick length=2.5pt,
 axis line style={draw=none},tick style={white,line width=.6pt},tick label style={font=\fs{9.4}},colormap name=pad,point meta min=0,point meta max=.05,axis on top]
\addplot[scatter,only marks,mark=cbC,scatter src=y] coordinates {(0,.001)(0,.003)(0,.005)(0,.007)(0,.009)(0,.011)(0,.013)(0,.015)(0,.017)(0,.019)(0,.021)(0,.023)(0,.025)(0,.027)(0,.029)(0,.031)(0,.033)(0,.035)(0,.037)(0,.039)(0,.041)(0,.043)(0,.045)(0,.047)(0,.049)};
\addplot[white,line width=.6pt] coordinates {(-.36,.0354)(-.17,.0354)(nan,nan)(-.36,.0255)(-.17,.0255)(nan,nan)(-.36,.0155)(-.17,.0155)(nan,nan)(-.36,.0057)(-.17,.0057)};
\end{axis}
% ---------- D heat map
\begin{axis}[box={113.9}{1465}{546.1}{498},xmin=-.5,xmax=5.5,ymin=-.5,ymax=9.5,y dir=reverse,xtick=\empty,ytick={0,...,9},
 yticklabels={CXCL1,CXCL2,CXCL5,CXCL8,CXCL10,CCL20,IL1A,IL1B,TNFa,TRAF6},y tick label style={font=\fs{13.4}\itshape},major tick length=0pt,ylabel={},
 axis line style={vline,line width=.8pt},colormap name=fold,point meta min=0,point meta max=50,axis on top,clip=false,
 nodes near coords={\pgfmathprintnumber[fixed,fixed zerofill,precision=2]{\pgfplotspointmeta}},
 every node near coord/.append style={font=\fs{10},anchor=center,text=black!85}]
\addplot[matrix plot,mesh/cols=6,point meta=explicit,draw=vline,line width=.6pt,nodes near coords align={center}] table[x=x,y=y,meta=v]{
x y v
0 0 1.03
1 0 0.94
2 0 11.06
3 0 20.73
4 0 15.96
5 0 13.51
0 1 1.03
1 1 1.23
2 1 3.24
3 1 11.89
4 1 8.54
5 1 4.54
0 2 1.12
1 2 1.11
2 2 4.98
3 2 6.07
4 2 6.79
5 2 7.58
0 3 1.06
1 3 1.49
2 3 23.34
3 3 47.89
4 3 37.41
5 3 27.19
0 4 1.15
1 4 1.11
2 4 7.29
3 4 22.26
4 4 12.37
5 4 7.66
0 5 1.00
1 5 1.42
2 5 9.47
3 5 30.53
4 5 35.88
5 5 25.26
0 6 1.07
1 6 1.17
2 6 3.16
3 6 9.08
4 6 10.54
5 6 10.42
0 7 1.04
1 7 1.42
2 7 4.85
3 7 8.15
4 7 6.42
5 7 6.67
0 8 1.01
1 8 1.33
2 8 2.87
3 8 11.75
4 8 4.20
5 8 3.27
0 9 1.01
1 9 1.10
2 9 1.93
3 9 2.71
4 9 1.86
5 9 2.01
};
\addplot[nodes near coords={},vline,line width=1.2pt] coordinates {(-.5,9.5)(5.5,9.5)};
\end{axis}
% ---------- D colour bar
\begin{axis}[box={704.6}{1465}{45.1}{497},xmin=-.5,xmax=.5,ymin=0,ymax=50,xtick=\empty,ytick={10,20,30,40},ytick pos=both,yticklabel pos=right,tick align=inside,major tick length=3pt,
 axis line style={black!60,line width=.6pt},tick style={vline},tick label style={font=\fs{14}},colormap name=fold,point meta min=0,point meta max=50,axis on top]
\addplot[scatter,only marks,mark=cbD,scatter src=y] coordinates {(0,.52)(0,.75)(0,1)(0,1.25)(0,1.5)(0,1.75)(0,2)(0,2.25)(0,2.5)(0,2.75)(0,3)(0,3.25)(0,3.5)(0,3.75)(0,4)(0,4.25)(0,4.5)(0,4.75)(0,5)(0,5.5)(0,6)(0,6.5)(0,7)(0,7.5)(0,8)(0,8.5)(0,9)(0,9.5)(0,10)(0,10.5)(0,11)(0,11.5)(0,12)(0,12.5)(0,13)(0,14)(0,15)(0,16)(0,17)(0,18)(0,19)(0,20)(0,21)(0,22)(0,23)(0,24)(0,25)(0,26)(0,27)(0,28)(0,29)(0,30)(0,31)(0,32)(0,33)(0,34)(0,35)(0,36)(0,37)(0,38)(0,39)(0,40)(0,41)(0,42)(0,43)(0,44)(0,45)(0,46)(0,47)(0,48)(0,49)(0,49.48)};
\end{axis}
% ---------- E bars
\begin{axis}[box={1136.2}{1454.4}{442.3}{442.2},xmin=-.486,xmax=5.516,ymin=0,ymax=3600,axis x line=bottom,axis y line=left,axis line style={-,black!85,line width=.7pt},
 xtick={0,...,5},xticklabels={},ytick={0,900,1800,2700,3600},tick align=outside,major tick length=8.75pt,tick style={black!85,line width=.7pt},xtick pos=bottom,ytick pos=left,
 tick label style={font=\fs{13.5}},scaled y ticks=false,/pgf/number format/set thousands separator={},clip=false]
\addplot[ybar,bar width=26.65pt,bar shift=0pt,fill=inkc,draw=inkc,error bars/y dir=plus,error bars/y explicit,error bars/error bar style={black!85,line width=.65pt},error bars/error mark options={black!85,line width=.65pt,mark size=7.5pt,rotate=90}] table[x=x,y=y,y error=e]{
x y e
0 603 219
1 950 288
2 2168 503
3 2517 700
4 1707 61
5 2179 1000
};
\end{axis}
\end{tikzpicture}
\end{document}
